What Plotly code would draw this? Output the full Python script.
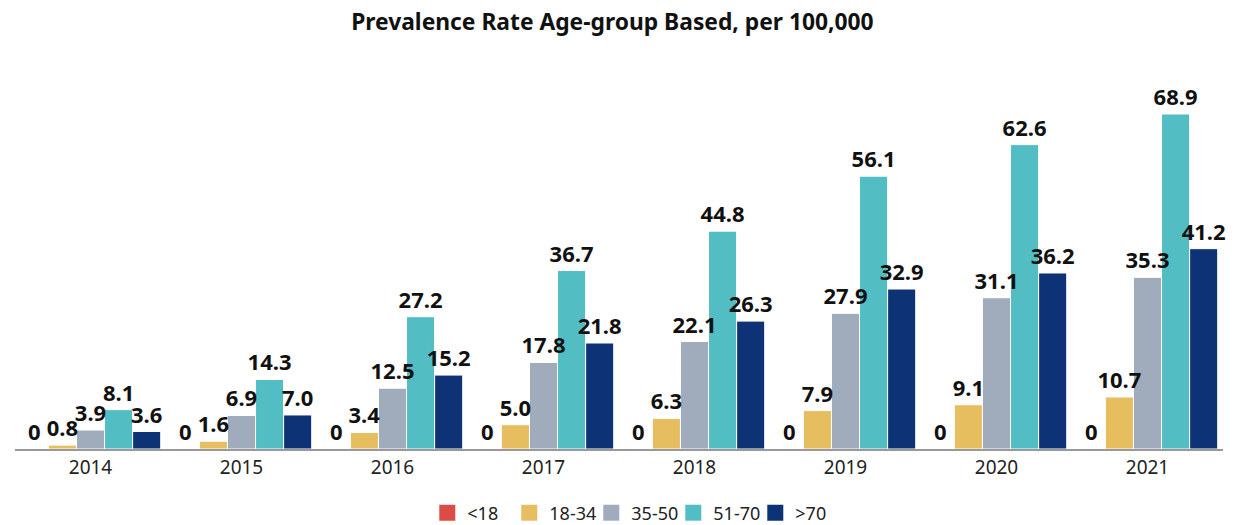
import plotly.graph_objects as go

years = ["2014", "2015", "2016", "2017", "2018", "2019", "2020", "2021"]
series_names = ["<18", "18-34", "35-50", "51-70", ">70"]
lt18 = [0, 0, 0, 0, 0, 0, 0, 0]
age18_34 = [0.8, 1.6, 3.4, 5.0, 6.3, 7.9, 9.1, 10.7]
age35_50 = [3.9, 6.9, 12.5, 17.8, 22.1, 27.9, 31.1, 35.3]
age51_70 = [8.1, 14.3, 27.2, 36.7, 44.8, 56.1, 62.6, 68.9]
gt70 = [3.6, 7.0, 15.2, 21.8, 26.3, 32.9, 36.2, 41.2]
colors = ["#DC4C44", "#E6BD5F", "#A0ABBB", "#53BDC4", "#0E3276"]

all_series = [lt18, age18_34, age35_50, age51_70, gt70]

fig = go.Figure()
# bars
for i, (name, vals, col) in enumerate(zip(series_names, all_series, colors)):
    fig.add_trace(go.Bar(
        x=years, y=vals, name=name, offsetgroup=str(i),
        marker=dict(color=col, line=dict(color="white", width=1)),
        hoverinfo="x+y+name", showlegend=False, legendgroup=name,
    ))
# value labels drawn on top of all bars (same offset groups, transparent)
for i, (name, vals) in enumerate(zip(series_names, all_series)):
    txt = ["0" if v == 0 else f"{v:.1f}" for v in vals]
    fig.add_trace(go.Bar(
        x=years, y=vals, name=name, offsetgroup=str(i),
        marker=dict(color="rgba(0,0,0,0)", line=dict(width=0)),
        text=txt, textposition="outside", constraintext="none", cliponaxis=False,
        textfont=dict(size=22, color="#111", family="Noto Sans", weight="bold"),
        hoverinfo="skip", showlegend=False, legendgroup=name,
    ))
# legend entries with larger square swatches
for name, col in zip(series_names, colors):
    fig.add_trace(go.Scatter(
        x=[None], y=[None], mode="markers", name=name, legendgroup=name,
        marker=dict(symbol="square", size=17, color=col), showlegend=True,
    ))

fig.update_layout(
    width=1236, height=517,
    barmode="group", bargap=0.07, bargroupgap=0,
    plot_bgcolor="white", paper_bgcolor="white",
    font=dict(family="Noto Sans", color="#222"),
    title=dict(text="<b>Prevalence Rate Age-group Based, per 100,000</b>", x=0.489, xanchor="center",
               y=0.973, yanchor="middle", font=dict(size=22.8, color="#111", family="Noto Sans")),
    margin=dict(l=6.5, r=20.5, t=52, b=76, autoexpand=False),
    xaxis=dict(showline=True, linecolor="#999", linewidth=1.5, ticks="", tickfont=dict(size=19, color="#222")),
    yaxis=dict(range=[0, 80], visible=False, showgrid=False),
    legend=dict(orientation="h", x=0.511, xanchor="center", y=-0.1645, yanchor="middle",
                font=dict(size=18, color="#222"), itemwidth=30, traceorder="normal",
                entrywidth=37, entrywidthmode="pixels"),
    uniformtext=dict(mode=False),
)

fig.write_html("out.html")
